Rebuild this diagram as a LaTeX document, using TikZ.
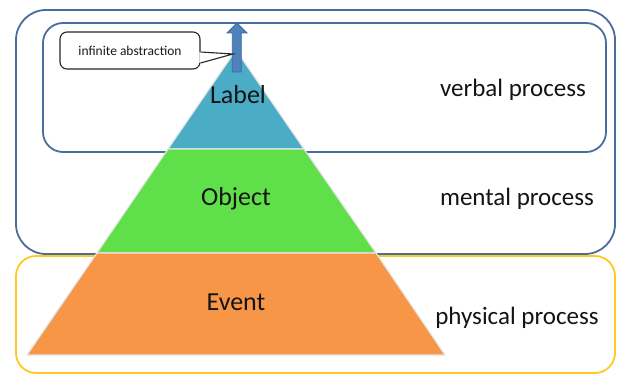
\documentclass[tikz,border=0pt]{standalone}
\usepackage{fontspec}
\setmainfont{Carlito}
\usepackage{tikz}
\usetikzlibrary{calc, positioning}
\definecolor{labelblue}{HTML}{4BACC6}
\definecolor{objgreen}{HTML}{5FE04A}
\definecolor{eventorange}{HTML}{F79646}
\definecolor{frameblue}{HTML}{4A6C9E}
\definecolor{frameyellow}{HTML}{FFC824}
\definecolor{arrowblue}{HTML}{4F81BD}
\definecolor{arrowedge}{HTML}{3D6AA0}
\definecolor{textdark}{HTML}{141414}
\tikzstyle{bluebox} =[draw=frameblue, line width=1.8pt]
\tikzstyle{yellowbox} =[draw=frameyellow, line width=1.8pt]
\tikzstyle{layer} =[draw=white!90!black, line width=1.2pt, line join=round]
\tikzstyle{level} =[anchor=base, text=textdark, font=\fontsize{26}{28}\selectfont]
\tikzstyle{process} =[anchor=base, text=textdark, font=\fontsize{25}{27}\selectfont]
\tikzstyle{calloutline} =[draw=black!85, line width=1.1pt]

\begin{document}
\begin{tikzpicture}[x=1pt, y=-1pt]
        \useasboundingbox (0,0) rectangle (619,374);

        %% Frames
        \draw[bluebox, rounded corners=30pt] (16,10) rectangle (615,254);
        \draw[bluebox, rounded corners=20pt] (43,23) rectangle (606,152);
        \draw[yellowbox, rounded corners=20pt] (16,256) rectangle (615,373);

        % Pyramid corners
        \coordinate (apex) at (236,50);
        \coordinate (l1) at (168,149);
        \coordinate (r1) at (304,149);
        \coordinate (l2) at (97,253);
        \coordinate (r2) at (376,253);
        \coordinate (l3) at (27,355);
        \coordinate (r3) at (445,355);

        %% Filled layers
        \filldraw[layer, fill=labelblue] (apex) -- (r1) -- (l1) -- cycle;
        \filldraw[layer, fill=objgreen] (l1) -- (r1) -- (r2) -- (l2) -- cycle;
        \filldraw[layer, fill=eventorange] (l2) -- (r2) -- (r3) -- (l3) -- cycle;

        % Layer names
        \node[level] (lbl) at (238,104) {Label};
        \node[level] (obj) at (236,206) {Object};
        \node[level] (evt) at (236,311) {Event};

        % Processes
        \node[process] (verbal) at (513,97) {verbal process};
        \node[process] (mental) at (517,206) {mental process};
        \node[process] (physical) at (517,325) {physical process};

        %% Arrow
        \filldraw[fill=arrowblue, draw=arrowedge, line width=0.8pt, line join=miter]
            (232.3,72) -- (232.3,33) -- (227,33) -- (237,23) -- (247,33) -- (241.3,33) -- (241.3,72) -- cycle;

        %% Callout
        \node[calloutline, fill=white, rounded corners=7pt, minimum width=140pt, minimum height=37pt,
              text=black!90, font=\fontsize{13.5}{14}\selectfont] (callout) at (130,50.5) {infinite abstraction};
        \coordinate (tip) at (233,54);
        \fill[white] ($(callout.east)+(-1.2,1.5)$) -- (tip) -- ($(callout.east)+(-1.2,12.5)$) -- cycle;
        \draw[calloutline] ($(callout.east)+(0,1.5)$) -- (tip) -- ($(callout.east)+(0,12.5)$);

    \end{tikzpicture}
\end{document}
